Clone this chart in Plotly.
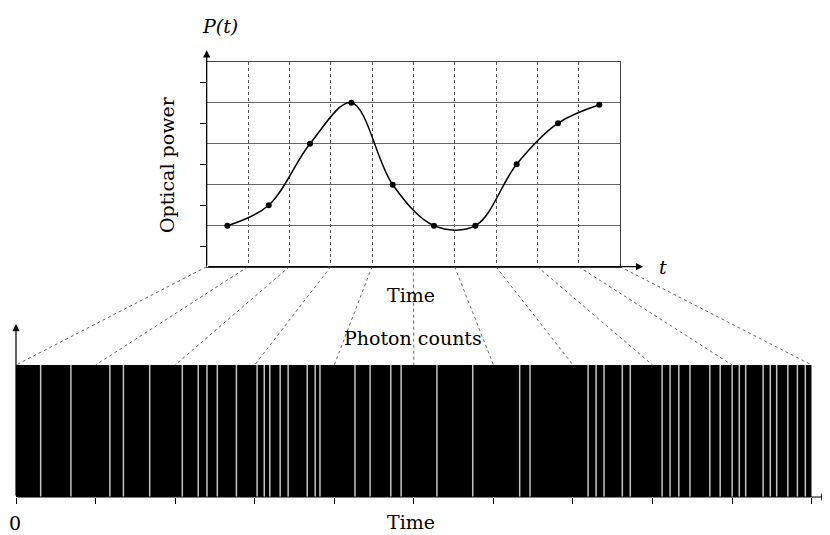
import plotly.graph_objects as go

# ---------------- data ----------------
sample_times = [0.5, 1.5, 2.5, 3.5, 4.5, 5.5, 6.5, 7.5, 8.5, 9.5]
optical_power = [1.0, 1.5, 3.0, 4.0, 2.0, 1.0, 1.0, 2.5, 3.5, 3.95]

photon_times = [0.31, 0.69, 1.18, 1.35, 1.68, 2.09, 2.29, 2.40, 2.53, 2.77,
                3.03, 3.12, 3.19, 3.32, 3.42, 3.66, 3.76, 3.82, 4.26, 4.45,
                4.71, 4.84, 5.29, 5.74, 6.33, 6.46, 7.19, 7.29, 7.39, 7.62,
                7.72, 8.12, 8.22, 8.33, 8.47, 8.72, 8.85, 9.00, 9.09, 9.17,
                9.39, 9.48, 9.56, 9.70, 9.82, 9.92]

time_span = [0, 10]
time_ticks = [0, 1, 2, 3, 4, 5, 6, 7, 8, 9, 10]
power_span = [0, 5]
power_minor_ticks = [0.5, 1.5, 2.5, 3.5, 4.5]
count_span = [0, 1]

# ---------------- layout geometry (page pixels) ----------------
PAGE_W, PAGE_H = 830, 535
OFF = 8                      # default body margin of the html page
FW, FH = PAGE_W - OFF, PAGE_H - OFF
TOP_L, TOP_R, TOP_T, TOP_B = 206.7, 620.0, 61.7, 266.7
BOT_L, BOT_R, BOT_T, BOT_B = 16.0, 811.7, 365.0, 497.0
FONT = "DejaVu Serif"
FS = 19


def dom_x(a, b):
    return [(a - OFF) / FW, (b - OFF) / FW]


def dom_y(top, bottom):
    return [1 - (bottom - OFF) / FH, 1 - (top - OFF) / FH]


fig = go.Figure()

# optical power curve
fig.add_trace(go.Scatter(
    x=sample_times, y=optical_power, mode="lines+markers",
    line=dict(shape="spline", smoothing=1.0, color="black", width=1.5),
    marker=dict(size=6, color="black"),
    xaxis="x", yaxis="y", cliponaxis=False, showlegend=False, hoverinfo="skip"))

# photon count lines
px_, py_ = [], []
for t in photon_times:
    px_ += [t, t, None]
    py_ += [count_span[0], count_span[1], None]
fig.add_trace(go.Scatter(
    x=px_, y=py_, mode="lines", line=dict(color="#c4c4c4", width=1.5),
    xaxis="x2", yaxis="y2", showlegend=False, hoverinfo="skip"))

# connecting lines between the two time axes (page-pixel canvas)
n = len(time_ticks) - 1
cx, cy = [], []
for k in range(len(time_ticks)):
    xt = TOP_L + (TOP_R - TOP_L) * k / n
    xb = BOT_L + (BOT_R - BOT_L) * k / n
    cx += [xt, xb, None]
    cy += [TOP_B, BOT_T, None]
fig.add_trace(go.Scatter(
    x=cx, y=cy, mode="lines", line=dict(color="#666", width=1, dash="dot"),
    xaxis="x3", yaxis="y3", showlegend=False, hoverinfo="skip"))

# black photon-count band
fig.add_shape(type="rect", xref="x2", yref="y2",
              x0=time_span[0], x1=time_span[1], y0=count_span[0], y1=count_span[1],
              fillcolor="black", line=dict(width=0), layer="below")

annotations = []


def arrow(xref, yref, x0, y0, x1, y1):
    return dict(xref=xref, yref=yref, axref=xref, ayref=yref,
                x=x1, y=y1, ax=x0, ay=y0, text="", showarrow=True,
                arrowhead=2, arrowsize=1.2, arrowwidth=1.2, arrowcolor="black",
                standoff=0, startstandoff=0)


annotations.append(arrow("x", "y", 0, 0, 0, 5.28))
annotations.append(arrow("x", "y", 0, 0, 10.56, 0))
annotations.append(arrow("x2", "y2", 0, 0, 0, 1.31))
annotations.append(arrow("x2", "y2", 0, 0, 10.21, 0))


def label(text, x, y, angle=0):
    return dict(xref="x3", yref="y3", x=x, y=y, text=text, showarrow=False,
                textangle=angle, font=dict(family=FONT, size=FS, color="black"),
                xanchor="center", yanchor="middle")


annotations += [
    label("<i>P(t)</i>", 220, 26),
    label("Optical power", 167, 165, -90),
    label("<i>t</i>", 663, 267),
    label("Time", 411, 295),
    label("Photon counts", 413, 338),
    label("0", 15, 523),
    label("Time", 411, 522),
]

fig.update_layout(
    width=FW, height=FH, autosize=False,
    margin=dict(l=0, r=0, t=0, b=0),
    paper_bgcolor="white", plot_bgcolor="rgba(0,0,0,0)",
    annotations=annotations,
    xaxis=dict(domain=dom_x(TOP_L, TOP_R), range=time_span, tick0=0, dtick=1,
               showgrid=True, gridcolor="#555", gridwidth=1, griddash="dot",
               showline=True, mirror=True, linecolor="#444", linewidth=1,
               ticks="", showticklabels=False, zeroline=False, fixedrange=True),
    yaxis=dict(domain=dom_y(TOP_T, TOP_B), range=power_span, tick0=0, dtick=1,
               showgrid=True, gridcolor="#666", gridwidth=1,
               showline=True, mirror=True, linecolor="#444", linewidth=1,
               ticks="", showticklabels=False, zeroline=False, fixedrange=True,
               minor=dict(tickmode="array", tickvals=power_minor_ticks, ticks="outside",
                          ticklen=6, tickcolor="black", tickwidth=1, showgrid=False)),
    xaxis2=dict(domain=dom_x(BOT_L, BOT_R), range=time_span, anchor="y2",
                tickmode="array", tickvals=time_ticks, ticks="outside", ticklen=6,
                tickcolor="black", tickwidth=1, showticklabels=False,
                showgrid=False, zeroline=False, showline=False, fixedrange=True),
    yaxis2=dict(domain=dom_y(BOT_T, BOT_B), range=count_span, anchor="x2",
                visible=False, fixedrange=True),
    xaxis3=dict(domain=[0, 1], range=[OFF, PAGE_W], anchor="y3", visible=False,
                fixedrange=True),
    yaxis3=dict(domain=[0, 1], range=[PAGE_H, OFF], anchor="x3", visible=False,
                fixedrange=True),
)

fig.write_html("out.html")
